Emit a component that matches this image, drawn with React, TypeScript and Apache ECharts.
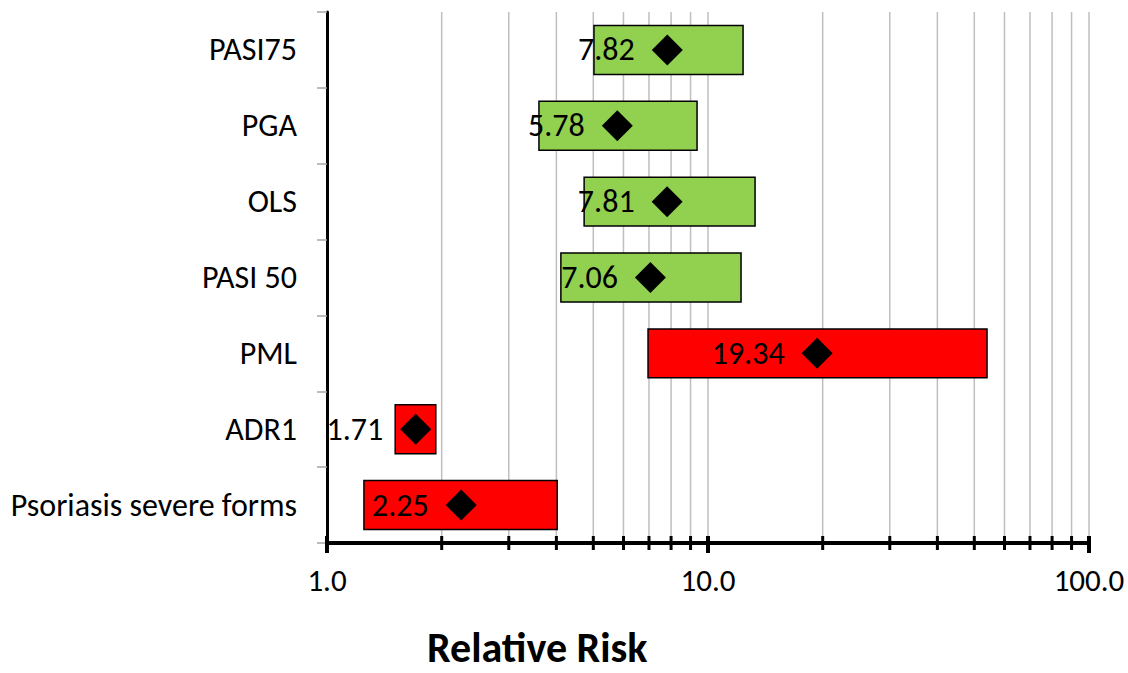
import React, { useEffect, useRef } from "react";
import * as echarts from "echarts";

const categories = ["PASI75", "PGA", "OLS", "PASI 50", "PML", "ADR1", "Psoriasis severe forms"];
const relativeRisk = [7.82, 5.78, 7.81, 7.06, 19.34, 1.71, 2.25];
const lowerCI = [5.02, 3.6, 4.73, 4.11, 6.96, 1.51, 1.25];
const upperCI = [12.36, 9.36, 13.29, 12.21, 54.0, 1.93, 4.02];
const barColors = ["#92d050", "#92d050", "#92d050", "#92d050", "#ff0000", "#ff0000", "#ff0000"];
const minorTicks = [2, 3, 4, 5, 6, 7, 8, 9, 20, 30, 40, 50, 60, 70, 80, 90];
const majorTicks = [1, 10, 100];

const FONT = "Carlito, Lato, 'Open Sans', sans-serif";

export default function App() {
  const ref = useRef<HTMLDivElement>(null);
  useEffect(() => {
    if (!ref.current) return;
    const chart = echarts.init(ref.current, null, { renderer: "svg" });
    const gridData = [
      ...minorTicks.map((v) => [v, 0, 0]),
      ...majorTicks.map((v) => [v, 0, 1]),
    ];
    chart.setOption({
      animation: false,
      grid: { left: 327, right: 39, top: 12, bottom: 130, containLabel: false },
      xAxis: {
        type: "log",
        logBase: 10,
        min: 1,
        max: 100,
        axisLine: { show: true, lineStyle: { color: "#000", width: 4 } },
        axisTick: { show: false },
        splitLine: { show: false },
        minorTick: { show: false },
        axisLabel: {
          formatter: (v: number) => v.toFixed(1),
          fontSize: 31,
          color: "#000",
          fontFamily: FONT,
          margin: 21,
        },
      },
      yAxis: {
        type: "category",
        data: categories,
        inverse: true,
        axisLine: { show: true, lineStyle: { color: "#000", width: 3 } },
        axisTick: { show: true, length: 10, lineStyle: { color: "#a6a6a6", width: 1.5 } },
        axisLabel: { fontSize: 32, color: "#000", fontFamily: FONT, margin: 30 },
        splitLine: { show: false },
      },
      series: [
        {
          type: "custom",
          z: 1,
          silent: true,
          data: gridData,
          encode: { x: 0, y: 1 },
          renderItem: (params: any, api: any) => {
            const v = api.value(0);
            const major = api.value(2) === 1;
            const x = api.coord([v, 0])[0];
            const cs = params.coordSys;
            const bottom = cs.y + cs.height;
            const children: any[] = [];
            if (v > 1) {
              children.push({
                type: "line",
                shape: { x1: x, y1: cs.y, x2: x, y2: bottom },
                style: { stroke: "#bfbfbf", lineWidth: 1.5 },
              });
            }
            children.push({
              type: "line",
              shape: { x1: x, y1: bottom - 7, x2: x, y2: bottom + (major ? 10 : 7) },
              style: { stroke: "#000", lineWidth: major ? 4 : 3 },
            });
            return { type: "group", children };
          },
        },
        {
          type: "custom",
          z: 2,
          data: categories.map((c, i) => [lowerCI[i], upperCI[i], i]),
          encode: { x: [0, 1], y: 2 },
          renderItem: (params: any, api: any) => {
            const i = api.value(2);
            const p1 = api.coord([api.value(0), i]);
            const p2 = api.coord([api.value(1), i]);
            const h = api.size([0, 1])[1] * 0.645;
            return {
              type: "rect",
              shape: { x: p1[0], y: p1[1] - h / 2, width: p2[0] - p1[0], height: h },
              style: { fill: barColors[i], stroke: "#000", lineWidth: 1.5 },
            };
          },
        },
        {
          type: "scatter",
          z: 3,
          symbol: "diamond",
          symbolSize: 31,
          itemStyle: { color: "#000", opacity: 1 },
          data: categories.map((c, i) => [relativeRisk[i], c]),
          label: {
            show: true,
            position: "left",
            distance: 17,
            formatter: (p: any) => p.value[0].toFixed(2),
            fontSize: 32,
            color: "#000",
            fontFamily: FONT,
          },
        },
      ],
      graphic: [
        {
          type: "text",
          left: 427,
          top: 626,
          style: {
            text: "Relative Risk",
            font: `bold 42px ${FONT}`,
            fill: "#000",
          },
        },
      ],
    });
    return () => chart.dispose();
  }, []);
  return <div ref={ref} style={{ width: 1128, height: 673, position: "absolute", left: 0, top: 0 }} />;
}
